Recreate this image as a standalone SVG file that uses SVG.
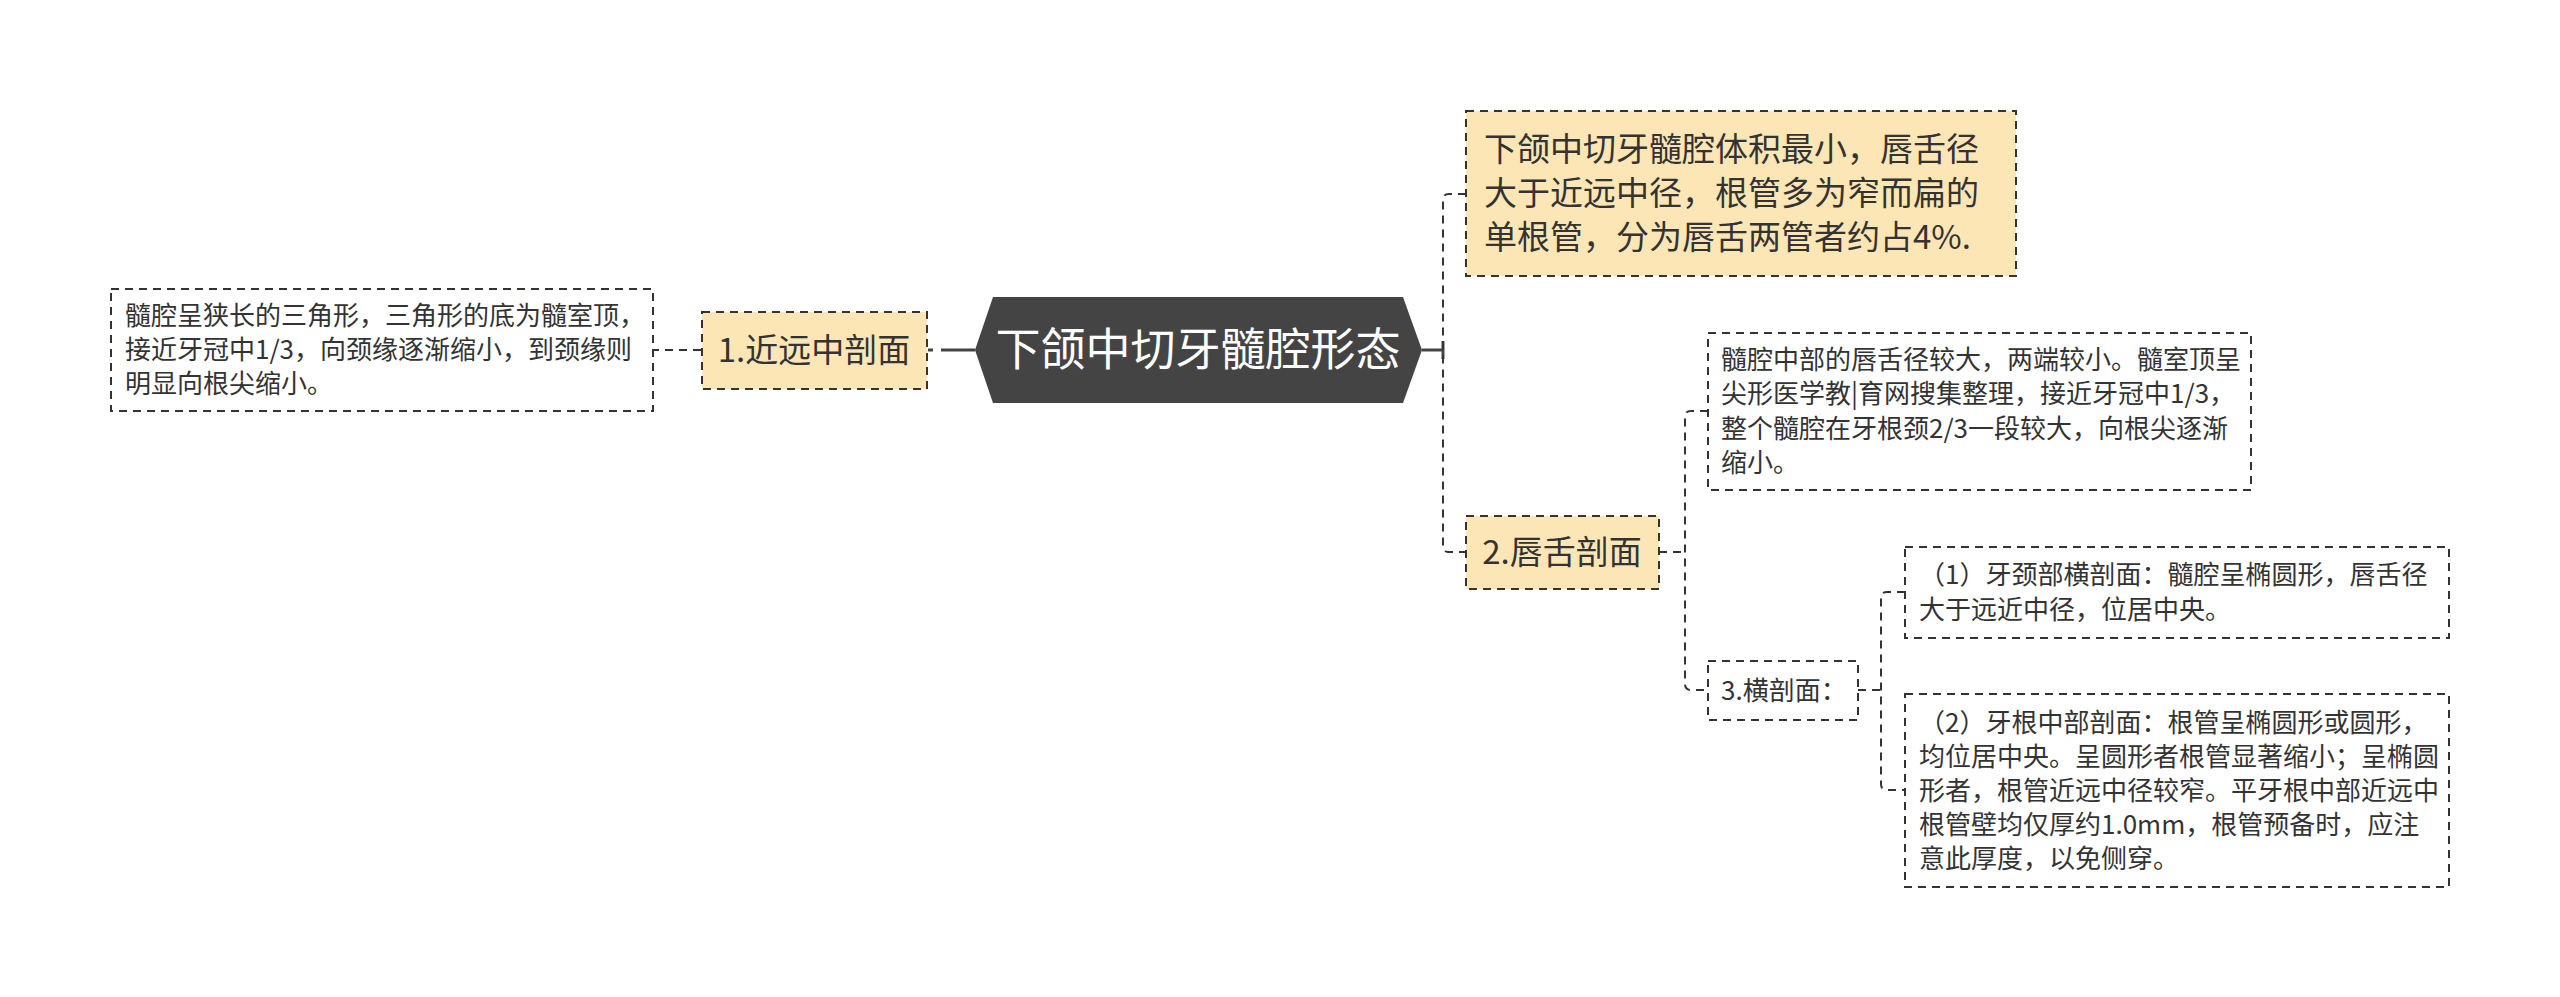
<svg xmlns="http://www.w3.org/2000/svg" width="2560" height="997" viewBox="0 0 2560 997">
<style>
text{font-family:"Noto Sans CJK SC","Noto Sans",sans-serif;fill:#333}
.box{fill:#fff;stroke:#333;stroke-width:2;stroke-dasharray:8 6}
.hl{fill:#FDE6B5;stroke:#333;stroke-width:2;stroke-dasharray:8 6}
.dl{fill:none;stroke:#333;stroke-width:2;stroke-dasharray:8 6}
.sl{fill:none;stroke:#444;stroke-width:3}
.t25{font-size:26px}
.t32{font-size:33px}
</style>
<rect width="2560" height="997" fill="#fff"/>
<g id="connectors">
<line class="sl" x1="975" y1="350" x2="928" y2="350" stroke-dasharray="34 8"/>
<line class="dl" x1="701" y1="350" x2="653" y2="350"/>
<line class="sl" x1="1422" y1="350" x2="1443" y2="350"/>
<line class="sl" x1="1443" y1="341" x2="1443" y2="359"/>
<path class="dl" d="M1466,194 H1449 Q1443,194 1443,200 V546 Q1443,552 1449,552 H1466"/>
<line class="dl" x1="1659" y1="552" x2="1685" y2="552"/>
<path class="dl" d="M1708,411 H1691 Q1685,411 1685,417 V684 Q1685,690 1691,690 H1708"/>
<line class="dl" x1="1858" y1="690" x2="1881" y2="690"/>
<path class="dl" d="M1905,592 H1887 Q1881,592 1881,598 V784 Q1881,790 1887,790 H1905"/>
</g>
<g id="center">
<polygon points="975,350 993,297 1403,297 1422,350 1403,403 993,403" fill="#444"/>
<text x="1198" y="366" font-size="45" text-anchor="middle" style="fill:#fff">下颌中切牙髓腔形态</text>
</g>
<g id="node1">
<rect class="hl" x="702" y="312" width="225" height="77"/>
<text class="t32" x="814" y="362" text-anchor="middle">1.近远中剖面</text>
</g>
<g id="node1-detail">
<rect class="box" x="111" y="289" width="542" height="122"/>
<text class="t25" x="125"><tspan x="125" y="325">髓腔呈狭长的三角形，三角形的底为髓室顶，</tspan><tspan x="125" y="359">接近牙冠中1/3，向颈缘逐渐缩小，到颈缘则</tspan><tspan x="125" y="393">明显向根尖缩小。</tspan></text>
</g>
<g id="top-node">
<rect class="hl" x="1466" y="111" width="550" height="165"/>
<text class="t32" x="1484"><tspan x="1484" y="161">下颌中切牙髓腔体积最小，唇舌径</tspan><tspan x="1484" y="205">大于近远中径，根管多为窄而扁的</tspan><tspan x="1484" y="249">单根管，分为唇舌两管者约占4%.</tspan></text>
</g>
<g id="node2">
<rect class="hl" x="1466" y="516" width="193" height="73"/>
<text class="t32" x="1562" y="564" text-anchor="middle">2.唇舌剖面</text>
</g>
<g id="node2-detail">
<rect class="box" x="1708" y="333" width="543" height="157"/>
<text class="t25" x="1721"><tspan x="1721" y="369">髓腔中部的唇舌径较大，两端较小。髓室顶呈</tspan><tspan x="1721" y="403">尖形医学教|育网搜集整理，接近牙冠中1/3，</tspan><tspan x="1721" y="438">整个髓腔在牙根颈2/3一段较大，向根尖逐渐</tspan><tspan x="1721" y="472">缩小。</tspan></text>
</g>
<g id="node3">
<rect class="box" x="1708" y="661" width="150" height="59"/>
<text class="t25" x="1721" y="699.5">3.横剖面：</text>
</g>
<g id="node3-1">
<rect class="box" x="1905" y="547" width="544" height="91"/>
<text class="t25" x="1919"><tspan x="1919" y="584">（1）牙颈部横剖面：髓腔呈椭圆形，唇舌径</tspan><tspan x="1919" y="619">大于远近中径，位居中央。</tspan></text>
</g>
<g id="node3-2">
<rect class="box" x="1905" y="694" width="544" height="193"/>
<text class="t25" x="1919"><tspan x="1919" y="731.5">（2）牙根中部剖面：根管呈椭圆形或圆形，</tspan><tspan x="1919" y="765.5">均位居中央。呈圆形者根管显著缩小；呈椭圆</tspan><tspan x="1919" y="799.5">形者，根管近远中径较窄。平牙根中部近远中</tspan><tspan x="1919" y="833.5">根管壁均仅厚约1.0mm，根管预备时，应注</tspan><tspan x="1919" y="867.5">意此厚度，以免侧穿。</tspan></text>
</g>
</svg>
